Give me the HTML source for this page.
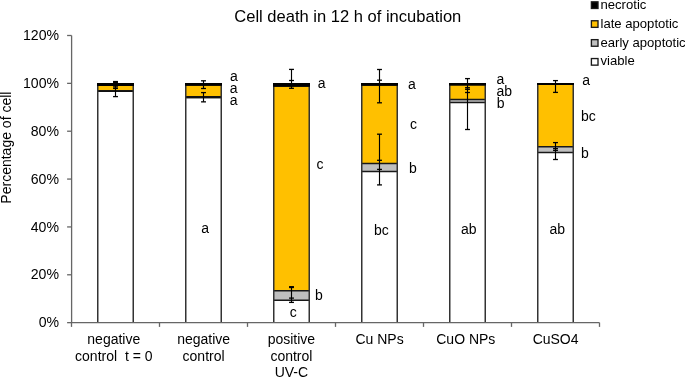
<!DOCTYPE html>
<html><head><meta charset="utf-8"><title>Cell death chart</title>
<style>
html,body{margin:0;padding:0;background:#fff;width:685px;height:377px;overflow:hidden;}
svg{display:block;will-change:transform;font-family:"Liberation Sans", sans-serif;}
</style></head><body>
<svg width="685" height="377" viewBox="0 0 685 377">
<rect x="0" y="0" width="685" height="377" fill="#fff"/>
<text x="234.3" y="21.8" font-size="16.55" fill="#000">Cell death in 12 h of incubation</text>
<text transform="translate(11.2,147.6) rotate(-90)" text-anchor="middle" font-size="14" fill="#000">Percentage of cell</text>
<text x="59.0" y="327.25" text-anchor="end" font-size="14.1" fill="#000">0%</text>
<text x="59.0" y="279.39" text-anchor="end" font-size="14.1" fill="#000">20%</text>
<text x="59.0" y="231.53" text-anchor="end" font-size="14.1" fill="#000">40%</text>
<text x="59.0" y="183.67" text-anchor="end" font-size="14.1" fill="#000">60%</text>
<text x="59.0" y="135.82" text-anchor="end" font-size="14.1" fill="#000">80%</text>
<text x="59.0" y="87.96" text-anchor="end" font-size="14.1" fill="#000">100%</text>
<text x="59.0" y="40.10" text-anchor="end" font-size="14.1" fill="#000">120%</text>
<rect x="97.75" y="91.15" width="35.50" height="231.50" fill="#fff"/>
<rect x="97.75" y="90.95" width="35.50" height="0.20" fill="#BFBFBF"/>
<rect x="97.75" y="85.15" width="35.50" height="5.80" fill="#FFC000"/>
<rect x="97.75" y="83.65" width="35.50" height="1.50" fill="#000"/>
<path d="M97.00,91.15 H134.00" stroke="#181818" stroke-width="1.5"/>
<path d="M97.00,90.95 H134.00" stroke="#181818" stroke-width="1.5"/>
<path d="M97.00,85.15 H134.00" stroke="#181818" stroke-width="1.5"/>
<path d="M97.00,91.05 H134.00" stroke="#111" stroke-width="1.70"/>
<path d="M97.75,83.65 V322.65" stroke="#333333" stroke-width="1.5"/>
<path d="M133.25,83.65 V322.65" stroke="#333333" stroke-width="1.5"/>
<path d="M97.00,84.40 H134.00" stroke="#000" stroke-width="3.00"/>
<rect x="185.75" y="97.45" width="35.50" height="225.20" fill="#fff"/>
<rect x="185.75" y="96.65" width="35.50" height="0.80" fill="#BFBFBF"/>
<rect x="185.75" y="84.95" width="35.50" height="11.70" fill="#FFC000"/>
<rect x="185.75" y="83.65" width="35.50" height="1.30" fill="#000"/>
<path d="M185.00,97.45 H222.00" stroke="#181818" stroke-width="1.5"/>
<path d="M185.00,96.65 H222.00" stroke="#181818" stroke-width="1.5"/>
<path d="M185.00,84.95 H222.00" stroke="#181818" stroke-width="1.5"/>
<path d="M185.00,97.05 H222.00" stroke="#111" stroke-width="2.30"/>
<path d="M185.75,83.65 V322.65" stroke="#333333" stroke-width="1.5"/>
<path d="M221.25,83.65 V322.65" stroke="#333333" stroke-width="1.5"/>
<path d="M185.00,84.30 H222.00" stroke="#000" stroke-width="2.80"/>
<rect x="273.75" y="300.2" width="35.50" height="22.45" fill="#fff"/>
<rect x="273.75" y="290.75" width="35.50" height="9.45" fill="#BFBFBF"/>
<rect x="273.75" y="86.05" width="35.50" height="204.70" fill="#FFC000"/>
<rect x="273.75" y="83.65" width="35.50" height="2.40" fill="#000"/>
<path d="M273.00,300.2 H310.00" stroke="#181818" stroke-width="1.5"/>
<path d="M273.00,290.75 H310.00" stroke="#181818" stroke-width="1.5"/>
<path d="M273.00,86.05 H310.00" stroke="#181818" stroke-width="1.5"/>
<path d="M273.75,83.65 V322.65" stroke="#333333" stroke-width="1.5"/>
<path d="M309.25,83.65 V322.65" stroke="#333333" stroke-width="1.5"/>
<path d="M273.00,84.85 H310.00" stroke="#000" stroke-width="3.90"/>
<rect x="361.75" y="171.45" width="35.50" height="151.20" fill="#fff"/>
<rect x="361.75" y="163.5" width="35.50" height="7.95" fill="#BFBFBF"/>
<rect x="361.75" y="84.95" width="35.50" height="78.55" fill="#FFC000"/>
<rect x="361.75" y="83.65" width="35.50" height="1.30" fill="#000"/>
<path d="M361.00,171.45 H398.00" stroke="#181818" stroke-width="1.5"/>
<path d="M361.00,163.5 H398.00" stroke="#181818" stroke-width="1.5"/>
<path d="M361.00,84.95 H398.00" stroke="#181818" stroke-width="1.5"/>
<path d="M361.75,83.65 V322.65" stroke="#333333" stroke-width="1.5"/>
<path d="M397.25,83.65 V322.65" stroke="#333333" stroke-width="1.5"/>
<path d="M361.00,84.30 H398.00" stroke="#000" stroke-width="2.80"/>
<rect x="449.75" y="102.5" width="35.50" height="220.15" fill="#fff"/>
<rect x="449.75" y="99.4" width="35.50" height="3.10" fill="#BFBFBF"/>
<rect x="449.75" y="84.75" width="35.50" height="14.65" fill="#FFC000"/>
<rect x="449.75" y="83.65" width="35.50" height="1.10" fill="#000"/>
<path d="M449.00,102.5 H486.00" stroke="#181818" stroke-width="1.5"/>
<path d="M449.00,99.4 H486.00" stroke="#181818" stroke-width="1.5"/>
<path d="M449.00,84.75 H486.00" stroke="#181818" stroke-width="1.5"/>
<path d="M449.75,83.65 V322.65" stroke="#333333" stroke-width="1.5"/>
<path d="M485.25,83.65 V322.65" stroke="#333333" stroke-width="1.5"/>
<path d="M449.00,84.20 H486.00" stroke="#000" stroke-width="2.60"/>
<rect x="537.75" y="152.55" width="35.50" height="170.10" fill="#fff"/>
<rect x="537.75" y="146.65" width="35.50" height="5.90" fill="#BFBFBF"/>
<rect x="537.75" y="84.25" width="35.50" height="62.40" fill="#FFC000"/>
<rect x="537.75" y="83.65" width="35.50" height="0.60" fill="#000"/>
<path d="M537.00,152.55 H574.00" stroke="#181818" stroke-width="1.5"/>
<path d="M537.00,146.65 H574.00" stroke="#181818" stroke-width="1.5"/>
<path d="M537.00,84.25 H574.00" stroke="#181818" stroke-width="1.5"/>
<path d="M537.75,83.65 V322.65" stroke="#333333" stroke-width="1.5"/>
<path d="M573.25,83.65 V322.65" stroke="#333333" stroke-width="1.5"/>
<path d="M537.00,83.95 H574.00" stroke="#000" stroke-width="2.10"/>
<path d="M115.50,81.4 V96.6" stroke="#000" stroke-width="1.15"/>
<path d="M113.05,81.55 H117.95" stroke="#000" stroke-width="1.3"/>
<path d="M113.05,82.4 H117.95" stroke="#000" stroke-width="1.3"/>
<path d="M113.05,86.9 H117.95" stroke="#000" stroke-width="1.3"/>
<path d="M113.05,88.4 H117.95" stroke="#000" stroke-width="1.3"/>
<path d="M113.05,96.6 H117.95" stroke="#000" stroke-width="1.3"/>
<path d="M203.50,80.8 V88.5" stroke="#000" stroke-width="1.15"/>
<path d="M201.05,80.8 H205.95" stroke="#000" stroke-width="1.3"/>
<path d="M201.05,88.5 H205.95" stroke="#000" stroke-width="1.3"/>
<path d="M203.50,92.6 V101.85" stroke="#000" stroke-width="1.15"/>
<path d="M201.05,92.6 H205.95" stroke="#000" stroke-width="1.3"/>
<path d="M201.05,101.85 H205.95" stroke="#000" stroke-width="1.3"/>
<path d="M291.50,69.4 V88.3" stroke="#000" stroke-width="1.15"/>
<path d="M289.05,69.4 H293.95" stroke="#000" stroke-width="1.3"/>
<path d="M289.05,80.5 H293.95" stroke="#000" stroke-width="1.3"/>
<path d="M289.05,88.3 H293.95" stroke="#000" stroke-width="1.3"/>
<path d="M291.50,287.0 V302.4" stroke="#000" stroke-width="1.15"/>
<path d="M289.05,286.7 H293.95" stroke="#000" stroke-width="1.3"/>
<path d="M289.05,287.5 H293.95" stroke="#000" stroke-width="1.3"/>
<path d="M289.05,298.1 H293.95" stroke="#000" stroke-width="1.3"/>
<path d="M289.05,302.4 H293.95" stroke="#000" stroke-width="1.3"/>
<path d="M379.50,69.5 V102.8" stroke="#000" stroke-width="1.15"/>
<path d="M377.05,69.5 H381.95" stroke="#000" stroke-width="1.3"/>
<path d="M377.05,80.2 H381.95" stroke="#000" stroke-width="1.3"/>
<path d="M377.05,102.8 H381.95" stroke="#000" stroke-width="1.3"/>
<path d="M379.50,134.2 V184.9" stroke="#000" stroke-width="1.15"/>
<path d="M377.05,134.2 H381.95" stroke="#000" stroke-width="1.3"/>
<path d="M377.05,160.3 H381.95" stroke="#000" stroke-width="1.3"/>
<path d="M377.05,169.4 H381.95" stroke="#000" stroke-width="1.3"/>
<path d="M377.05,184.9 H381.95" stroke="#000" stroke-width="1.3"/>
<path d="M467.50,78.6 V129.5" stroke="#000" stroke-width="1.15"/>
<path d="M465.05,78.6 H469.95" stroke="#000" stroke-width="1.3"/>
<path d="M465.05,87.7 H469.95" stroke="#000" stroke-width="1.3"/>
<path d="M465.05,89.3 H469.95" stroke="#000" stroke-width="1.3"/>
<path d="M465.05,92.5 H469.95" stroke="#000" stroke-width="1.3"/>
<path d="M465.05,129.5 H469.95" stroke="#000" stroke-width="1.3"/>
<path d="M555.50,80.6 V92.4" stroke="#000" stroke-width="1.15"/>
<path d="M553.05,80.6 H557.95" stroke="#000" stroke-width="1.3"/>
<path d="M553.05,92.4 H557.95" stroke="#000" stroke-width="1.3"/>
<path d="M555.50,142.6 V159.5" stroke="#000" stroke-width="1.15"/>
<path d="M553.05,142.6 H557.95" stroke="#000" stroke-width="1.3"/>
<path d="M553.05,148.6 H557.95" stroke="#000" stroke-width="1.3"/>
<path d="M553.05,150.4 H557.95" stroke="#000" stroke-width="1.3"/>
<path d="M553.05,159.5 H557.95" stroke="#000" stroke-width="1.3"/>
<path d="M71.6,35.5 V322.65 H599.5" fill="none" stroke="#666666" stroke-width="1.3"/>
<path d="M67.1,322.65 H71.6" stroke="#666666" stroke-width="1.3"/>
<path d="M67.1,274.79 H71.6" stroke="#666666" stroke-width="1.3"/>
<path d="M67.1,226.93 H71.6" stroke="#666666" stroke-width="1.3"/>
<path d="M67.1,179.07 H71.6" stroke="#666666" stroke-width="1.3"/>
<path d="M67.1,131.22 H71.6" stroke="#666666" stroke-width="1.3"/>
<path d="M67.1,83.36 H71.6" stroke="#666666" stroke-width="1.3"/>
<path d="M67.1,35.50 H71.6" stroke="#666666" stroke-width="1.3"/>
<path d="M71.5,322.65 V326.9" stroke="#666666" stroke-width="1.3"/>
<path d="M159.5,322.65 V326.9" stroke="#666666" stroke-width="1.3"/>
<path d="M247.5,322.65 V326.9" stroke="#666666" stroke-width="1.3"/>
<path d="M335.5,322.65 V326.9" stroke="#666666" stroke-width="1.3"/>
<path d="M423.5,322.65 V326.9" stroke="#666666" stroke-width="1.3"/>
<path d="M511.5,322.65 V326.9" stroke="#666666" stroke-width="1.3"/>
<path d="M599.5,322.65 V326.9" stroke="#666666" stroke-width="1.3"/>
<text x="230.11" y="81.1" font-size="14.0" fill="#000">a</text>
<text x="229.71" y="92.9" font-size="14.0" fill="#000">a</text>
<text x="229.71" y="104.5" font-size="14.0" fill="#000">a</text>
<text x="201.31" y="233.1" font-size="14.0" fill="#000">a</text>
<text x="317.81" y="87.6" font-size="14.0" fill="#000">a</text>
<text x="316.41" y="168.9" font-size="14.0" fill="#000">c</text>
<text x="315.10" y="300.4" font-size="14.0" fill="#000">b</text>
<text x="289.71" y="317.3" font-size="14.0" fill="#000">c</text>
<text x="407.91" y="88.6" font-size="14.0" fill="#000">a</text>
<text x="409.91" y="129.3" font-size="14.0" fill="#000">c</text>
<text x="408.90" y="173.0" font-size="14.0" fill="#000">b</text>
<text x="373.90" y="235.4" font-size="14.0" fill="#000">bc</text>
<text x="496.51" y="83.8" font-size="14.0" fill="#000">a</text>
<text x="496.51" y="95.9" font-size="14.0" fill="#000">ab</text>
<text x="496.80" y="108.1" font-size="14.0" fill="#000">b</text>
<text x="461.01" y="234.2" font-size="14.0" fill="#000">ab</text>
<text x="582.21" y="85.0" font-size="14.0" fill="#000">a</text>
<text x="580.90" y="120.9" font-size="14.0" fill="#000">bc</text>
<text x="581.10" y="157.9" font-size="14.0" fill="#000">b</text>
<text x="549.41" y="233.9" font-size="14.0" fill="#000">ab</text>
<text x="113.8" y="344.1" text-anchor="middle" font-size="14" fill="#000">negative</text>
<text x="113.8" y="360.5" text-anchor="middle" font-size="14" fill="#000">control  t = 0</text>
<text x="203.6" y="344.1" text-anchor="middle" font-size="14" fill="#000">negative</text>
<text x="203.6" y="360.5" text-anchor="middle" font-size="14" fill="#000">control</text>
<text x="291.4" y="344.1" text-anchor="middle" font-size="14" fill="#000">positive</text>
<text x="291.4" y="360.5" text-anchor="middle" font-size="14" fill="#000">control</text>
<text x="291.4" y="376.9" text-anchor="middle" font-size="14" fill="#000">UV-C</text>
<text x="379.6" y="344.1" text-anchor="middle" font-size="14" fill="#000">Cu NPs</text>
<text x="465.8" y="344.1" text-anchor="middle" font-size="14" fill="#000">CuO NPs</text>
<text x="555.6" y="344.1" text-anchor="middle" font-size="14" fill="#000">CuSO4</text>
<rect x="591.4" y="1.85" width="6.6" height="6.6" fill="#000" stroke="#1a1a1a" stroke-width="1.35"/>
<text x="600.5" y="8.70" font-size="13.1" fill="#000">necrotic</text>
<rect x="591.4" y="20.75" width="6.6" height="6.6" fill="#FFC000" stroke="#1a1a1a" stroke-width="1.35"/>
<text x="600.5" y="27.60" font-size="13.1" fill="#000">late apoptotic</text>
<rect x="591.4" y="39.65" width="6.6" height="6.6" fill="#BFBFBF" stroke="#1a1a1a" stroke-width="1.35"/>
<text x="600.5" y="46.50" font-size="13.1" fill="#000">early apoptotic</text>
<rect x="591.4" y="58.55" width="6.6" height="6.6" fill="#fff" stroke="#1a1a1a" stroke-width="1.35"/>
<text x="600.5" y="65.40" font-size="13.1" fill="#000">viable</text>
</svg>
</body></html>
